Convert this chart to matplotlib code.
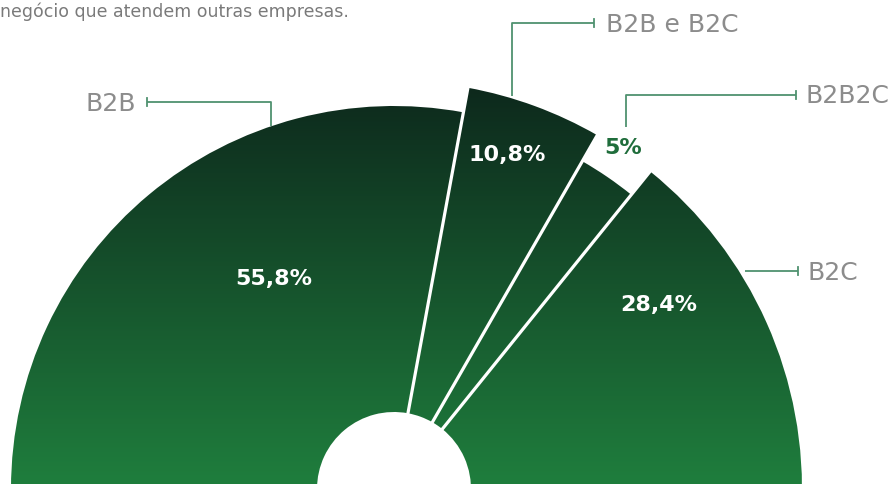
import numpy as np
import matplotlib
matplotlib.use("Agg")
import matplotlib.pyplot as plt
from matplotlib.patches import Wedge

# ---- data ----
categories = ["B2B", "B2B e B2C", "B2B2C", "B2C"]
shares = [55.8, 10.8, 5.0, 28.4]
pct_labels = ["55,8%", "10,8%", "5%", "28,4%"]
subtitle = "negócio que atendem outras empresas."

# ---- style ----
W, H = 891, 485
radii = [383, 408, 378, 408]          # outer radius per wedge (px)
hole = 77                              # inner radius (px)
cx, cy_img = 394, 490                  # centre in image pixels (y down)
top_col = np.array([0x0d, 0x28, 0x1c]) / 255
bot_col = np.array([0x1f, 0x7e, 0x3d]) / 255
label_col = "#8c8c8c"
line_col = "#4f9270"


def Y(y_img):
    """image-pixel y (down) -> axes data y (up)"""
    return H - y_img


fig = plt.figure(figsize=(W / 100, H / 100), dpi=100)
ax = fig.add_axes([0, 0, 1, 1])
ax.set_xlim(0, W)
ax.set_ylim(0, H)
ax.set_aspect("equal")
ax.axis("off")

# vertical gradient (row 0 = top of picture)
ys = np.arange(H)
t = np.clip((ys - 85) / 400.0, 0, 1)[:, None, None]
grad = top_col[None, None, :] * (1 - t) + bot_col[None, None, :] * t

# wedges: semicircle, clockwise from the left (180 deg)
total = sum(shares)
start = 180.0
cyd = Y(cy_img)
bounds = []
for i, (s, r) in enumerate(zip(shares, radii)):
    span = 180.0 * s / total
    end = start - span
    if i == len(shares) - 1:
        end = -3.0  # close the half-disc below the visible area
    w = Wedge((cx, cyd), r, end, start, width=r - hole,
              facecolor="none", edgecolor="none", zorder=1)
    ax.add_patch(w)
    im = ax.imshow(grad, extent=(0, W, 0, H), origin="upper", aspect="auto",
                   zorder=2, interpolation="bilinear")
    im.set_clip_path(w)
    if i < len(shares) - 1:
        bounds.append((end, max(r, radii[i + 1])))
    start = end

# white separators between wedges
for ang, rr in bounds:
    a = np.deg2rad(ang)
    ax.plot([cx + (hole - 2) * np.cos(a), cx + (rr + 2) * np.cos(a)],
            [cyd + (hole - 2) * np.sin(a), cyd + (rr + 2) * np.sin(a)],
            color="white", lw=2.3, zorder=3, solid_capstyle="butt")

ax.set_xlim(0, W)
ax.set_ylim(0, H)

lab_font = dict(family=["DejaVu Sans"], fontweight="normal")
pct_font = dict(family=["DejaVu Sans"], fontweight="bold")

# subtitle (cropped sentence)
ax.text(0, Y(12), subtitle, fontsize=12.5, color="#7a7a7a",
        family=["DejaVu Sans"], va="center", ha="left")

# percentage labels
pct_pos = [(274, 279), (507, 155), (623, 148), (659, 305)]
pct_cols = ["white", "white", "#1f6d3b", "white"]
for txt, (x, y), c in zip(pct_labels, pct_pos, pct_cols):
    ax.text(x, Y(y), txt, fontsize=16, color=c, ha="center", va="center",
            zorder=5, **pct_font)


# connectors + category labels
def connector(points, tick_at):
    xs = [p[0] for p in points]
    yv = [Y(p[1]) for p in points]
    ax.plot(xs, yv, color=line_col, lw=1.3, zorder=4, solid_capstyle="butt")
    tx, ty = tick_at
    ax.plot([tx, tx], [Y(ty) - 4, Y(ty) + 4], color=line_col, lw=1.3, zorder=4)


connector([(147, 103), (271, 103), (271, 127)], (147, 103))
ax.text(136, Y(104), categories[0], fontsize=18, color=label_col,
        ha="right", va="center", **lab_font)

connector([(512, 97), (512, 24), (594, 24)], (594, 24))
ax.text(606, Y(25), categories[1], fontsize=18, color=label_col,
        ha="left", va="center", **lab_font)

connector([(626, 128), (626, 96), (796, 96)], (796, 96))
ax.text(806, Y(96), categories[2], fontsize=18, color=label_col,
        ha="left", va="center", **lab_font)

connector([(745, 272), (798, 272)], (798, 272))
ax.text(808, Y(273), categories[3], fontsize=18, color=label_col,
        ha="left", va="center", **lab_font)

fig.savefig("out.png", dpi=100, facecolor="white")
